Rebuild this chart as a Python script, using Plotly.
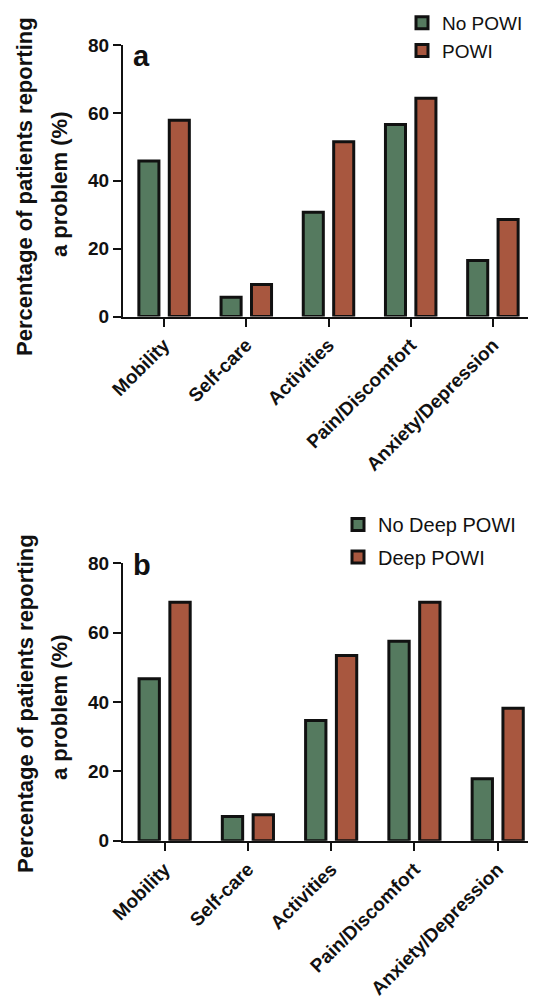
import plotly.graph_objects as go

categories = ["Mobility", "Self-care", "Activities", "Pain/Discomfort", "Anxiety/Depression"]
no_powi = [45.8, 5.7, 30.7, 56.6, 16.5]
powi = [57.8, 9.4, 51.5, 64.3, 28.6]
no_deep_powi = [46.7, 7.0, 34.7, 57.5, 17.9]
deep_powi = [68.8, 7.5, 53.4, 68.8, 38.2]

y_ticks = [0, 20, 40, 60, 80]
y_title_1 = "Percentage of patients reporting"
y_title_2 = "a problem (%)"

GREEN = "#557A5F"
RED = "#A8573F"
EDGE = "#111111"
FONT = "Liberation Sans, Arial, sans-serif"

# the page body has an 8px default margin; the figure is sized to fill the rest
OFF = 8
W, H = 536 - OFF, 1007 - OFF

def px(x):
    return (x - OFF) / W

def py(y):
    return 1 - (y - OFF) / H

fig = go.Figure()
fig.add_trace(go.Bar(x=categories, y=no_powi, name="No POWI", xaxis="x", yaxis="y",
                     marker=dict(color=GREEN, line=dict(color=EDGE, width=3)),
                     legend="legend", legendgroup="g1"))
fig.add_trace(go.Bar(x=categories, y=powi, name="POWI", xaxis="x", yaxis="y",
                     marker=dict(color=RED, line=dict(color=EDGE, width=3)),
                     legend="legend", legendgroup="g2"))
fig.add_trace(go.Bar(x=categories, y=no_deep_powi, name="No Deep POWI", xaxis="x2", yaxis="y2",
                     marker=dict(color=GREEN, line=dict(color=EDGE, width=3)),
                     legend="legend2", legendgroup="g3"))
fig.add_trace(go.Bar(x=categories, y=deep_powi, name="Deep POWI", xaxis="x2", yaxis="y2",
                     marker=dict(color=RED, line=dict(color=EDGE, width=3)),
                     legend="legend2", legendgroup="g4"))

xcommon = dict(showline=True, linecolor=EDGE, linewidth=2, ticks="outside", ticklen=8,
               tickwidth=2, tickcolor=EDGE, tickangle=-45, showgrid=False, zeroline=False,
               automargin=False,
               tickfont=dict(family=FONT, size=19, color="#111", weight="bold"))
ycommon = dict(showline=True, linecolor=EDGE, linewidth=2, ticks="outside", ticklen=8,
               tickwidth=2, tickcolor=EDGE, showgrid=False, zeroline=False, range=[0, 80],
               automargin=False,
               tickvals=y_ticks, ticktext=[str(v) for v in y_ticks],
               tickfont=dict(family=FONT, size=19, color="#111", weight="bold"))

fig.update_layout(
    width=W, height=H,
    margin=dict(l=0, r=0, t=0, b=0, autoexpand=False),
    paper_bgcolor="white", plot_bgcolor="white",
    barmode="group", bargap=0.26, bargroupgap=0.34,
    showlegend=True,
    xaxis=dict(domain=[px(123), px(534)], range=[-0.5, 4.5], anchor="y", **xcommon),
    yaxis=dict(domain=[py(316.5), py(45)], anchor="x", **ycommon),
    xaxis2=dict(domain=[px(123), 1.0], range=[-0.5, 4.46], anchor="y2", **xcommon),
    yaxis2=dict(domain=[py(840.7), py(563.3)], anchor="x2", **ycommon),
    legend=dict(x=px(402), xanchor="left", y=py(4), yanchor="top", tracegroupgap=0,
                font=dict(family=FONT, size=19, color="#111"), bgcolor="rgba(0,0,0,0)",
                itemclick=False),
    legend2=dict(x=px(338), xanchor="left", y=py(505), yanchor="top", tracegroupgap=3.5,
                 font=dict(family=FONT, size=20, color="#111"), bgcolor="rgba(0,0,0,0)",
                 itemclick=False),
)

annots = []
for lbl, y in (("a", 56), ("b", 565)):
    annots.append(dict(text=lbl, x=px(131), y=py(y), xref="paper", yref="paper",
                       xanchor="left", yanchor="middle", showarrow=False,
                       font=dict(family=FONT, size=29, color="#111", weight="bold")))
for (y1, y2) in ((187, 185), (704, 708)):
    annots.append(dict(text=y_title_1, x=px(25), y=py(y1), xref="paper", yref="paper",
                       xanchor="center", yanchor="middle", textangle=-90, showarrow=False,
                       font=dict(family=FONT, size=22, color="#111", weight="bold")))
    annots.append(dict(text=y_title_2, x=px(59), y=py(y2), xref="paper", yref="paper",
                       xanchor="center", yanchor="middle", textangle=-90, showarrow=False,
                       font=dict(family=FONT, size=22, color="#111", weight="bold")))
fig.update_layout(annotations=annots)

fig.write_html("out.html")
